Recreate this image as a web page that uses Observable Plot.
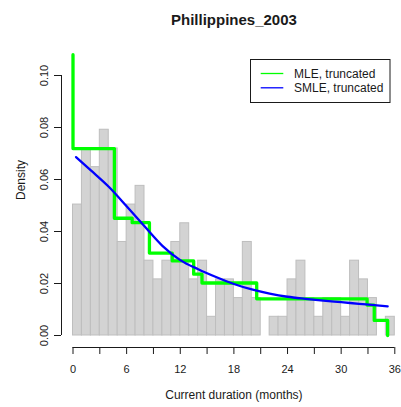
<!DOCTYPE html>
<html>
<head>
<meta charset="utf-8">
<script src="https://cdn.jsdelivr.net/npm/d3@7"></script>
<script src="https://cdn.jsdelivr.net/npm/@observablehq/plot@0.6"></script>
<style>
  body { margin: 0; background: #fff; }
  #chart svg { display: block; }
</style>
</head>
<body>
<div id="chart"></div>
<script>
// ---- data ----
const title = "Phillippines_2003";
const xLabel = "Current duration (months)";
const yLabel = "Density";

// Histogram of current durations: one-month bins starting at these months
const binStarts = [0, 1, 2, 3, 4, 5, 6, 7, 8, 9, 10, 11, 12, 13, 14, 15, 16, 17,
                   18, 19, 20, 21, 22, 23, 24, 25, 26, 27, 28, 29, 30, 31, 32, 33, 34, 35];
const binCounts = [7, 10, 9, 11, 10, 5, 7, 8, 4, 3, 4, 5, 6, 3, 4, 1, 3, 3,
                   2, 5, 2, 0, 1, 1, 3, 4, 2, 1, 2, 2, 1, 4, 3, 2, 0, 1];
const binWidth = 1;

// Truncated MLE: piecewise-constant density, value holds from each break onward
const mleBreaks  = [0, 0, 4.63, 6.62, 8.55, 11.1, 13.5, 14.43, 20.55, 32.9, 33.7, 35.2];
const mleDensity = [0.108, 0.0719, 0.0451, 0.0434, 0.0317, 0.0287, 0.0236, 0.0202, 0.0141, 0.0117, 0.0058, 0];

// Truncated smoothed MLE
const smleMonths  = [0.34, 2, 4, 6, 8, 10, 12, 14, 16, 18, 20, 22, 24, 26, 28, 30, 32, 34, 35.2];
const smleDensity = [0.0686, 0.0635, 0.0572, 0.0497, 0.0420, 0.0345, 0.0290, 0.0255, 0.0225, 0.0198,
                     0.0177, 0.0161, 0.0149, 0.0141, 0.0134, 0.0128, 0.0122, 0.0116, 0.0112];

const xTicks = [0, 3, 6, 9, 12, 15, 18, 21, 24, 27, 30, 33, 36];
const xLabelEvery = 6;
const yTicks = [0, 0.02, 0.04, 0.06, 0.08, 0.10];

const seriesNames  = ["MLE, truncated", "SMLE, truncated"];
const seriesColors = ["#00ff00", "#0000ff"];

// ---- derived tables ----
const total = d3.sum(binCounts);
const bins = binStarts.map((x0, i) => ({
  x0, x1: x0 + binWidth, density: binCounts[i] / (total * binWidth)
}));
const mle = mleBreaks.map((x, i) => ({x, y: mleDensity[i]}));
const smle = smleMonths.map((x, i) => ({x, y: smleDensity[i]}));

// ---- layout ----
const W = 401, H = 407;
const font = "'Liberation Sans', Arial, Helvetica, sans-serif";
const ink = "#1a1a1a";
const xMid = (xTicks[0] + xTicks[xTicks.length - 1]) / 2;

const chart = Plot.plot({
  width: W,
  height: H,
  marginLeft: 61,
  marginRight: 6,
  marginTop: 53,
  marginBottom: 60,
  style: {fontFamily: font, color: ink, background: "#fff", overflow: "visible"},
  x: {domain: [xTicks[0], xTicks[xTicks.length - 1]], range: [72.5, 394.3], label: null},
  y: {domain: [yTicks[0], yTicks[yTicks.length - 1]], range: [335, 75], label: null},
  marks: [
    // histogram
    Plot.rectY(bins, {x1: "x0", x2: "x1", y: "density", fill: "#d3d3d3",
                      stroke: "#bebebe", strokeWidth: 1, inset: 0}),
    // MLE step function
    Plot.line(mle, {x: "x", y: "y", curve: "step-after", stroke: seriesColors[0],
                    strokeWidth: 3.3, strokeLinejoin: "round", strokeLinecap: "round"}),
    // SMLE curve
    Plot.line(smle, {x: "x", y: "y", curve: "monotone-x", stroke: seriesColors[1],
                     strokeWidth: 2.3, strokeLinecap: "round"}),
    // x axis
    Plot.ruleY([yTicks[0]], {x1: xTicks[0], x2: xTicks[xTicks.length - 1], dy: 12, stroke: ink, strokeWidth: 1}),
    Plot.axisX({ticks: xTicks, tickSize: 7, tickPadding: 11, fontSize: 11,
                tickFormat: d => d % xLabelEvery === 0 ? String(d) : "", label: null, stroke: ink}),
    // y axis
    Plot.ruleX([xTicks[0]], {y1: yTicks[0], y2: yTicks[yTicks.length - 1], dx: -11.5, stroke: ink, strokeWidth: 1}),
    Plot.axisY({ticks: yTicks, tickSize: 7, tickPadding: 7, tickRotate: -90, fontSize: 11,
                tickFormat: d3.format(".2f"), label: null, stroke: ink}),
    // x axis title and main title
    Plot.text([xLabel], {x: xMid, frameAnchor: "bottom", dy: 51, fontSize: 12, fill: ink}),
    Plot.text([title], {x: xMid, frameAnchor: "top", dy: -39, fontSize: 15, fontWeight: "bold", fill: ink})
  ]
});

const svg = d3.select(chart);

// y axis title, rotated
svg.append("text")
  .attr("transform", "translate(21,180) rotate(-90)")
  .attr("text-anchor", "middle").attr("dy", "0.35em")
  .attr("font-family", font).attr("font-size", 12)
  .attr("fill", ink).text(yLabel);

// legend box, top right
const lg = svg.append("g")
  .attr("font-family", font).attr("font-size", 12).attr("text-anchor", "start");
lg.append("rect")
  .attr("x", 250.5).attr("y", 59.5).attr("width", 139.5).attr("height", 43)
  .attr("fill", "#fff").attr("stroke", ink).attr("stroke-width", 1);
seriesNames.forEach((name, i) => {
  const cy = 73.5 + i * 14.3;
  lg.append("line")
    .attr("x1", 260.7).attr("x2", 283.3).attr("y1", cy).attr("y2", cy)
    .attr("stroke", seriesColors[i]).attr("stroke-width", 1.3);
  lg.append("text")
    .attr("x", 294).attr("y", cy).attr("dy", "0.35em")
    .attr("text-anchor", "start")
    .attr("fill", ink).text(name);
});

document.getElementById("chart").appendChild(chart);
</script>
</body>
</html>
